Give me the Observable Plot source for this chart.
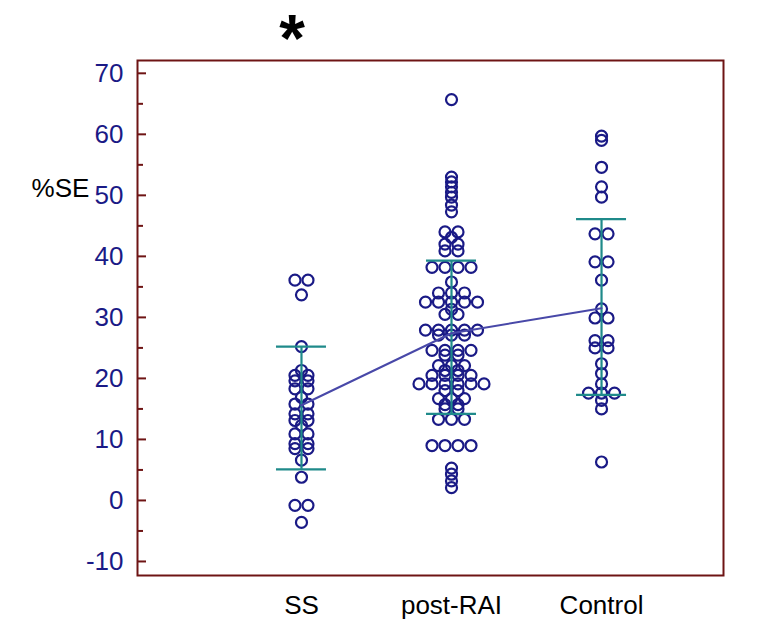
<!DOCTYPE html>
<html><head><meta charset="utf-8">
<script src="https://cdn.jsdelivr.net/npm/d3@7"></script>
<script src="https://cdn.jsdelivr.net/npm/@observablehq/plot@0.6"></script>
<style>
body{margin:0;background:#fff;font-family:Helvetica,"Liberation Sans",Arial,sans-serif;}
#wrap{position:relative;width:776px;height:626px;}
#star{position:absolute;left:262px;top:0;width:60px;text-align:center;font-size:66px;line-height:normal;font-weight:bold;color:#000;}
</style>
</head><body><div id="wrap"><div id="chart"></div><div id="star">*</div></div>
<script>
const categories = ["SS", "post-RAI", "Control"];
const ssValues = [36.1, 36.1, 33.7, 25.2, 21.3, 20.5, 20.5, 19.6, 19.6, 18.3, 18.3, 16.9, 15.8, 15.8,
  14.2, 14.2, 13.1, 13.1, 12.3, 10.9, 10.9, 9.3, 9.3, 8.5, 8.5, 6.6, 3.8, -0.8, -0.8, -3.6];
const postRaiValues = [65.7, 53.0, 52.2, 51.4, 50.5, 49.7, 48.4, 47.3,
  44.0, 44.0, 43.1, 42.0, 42.0, 40.9, 40.9, 38.2, 38.2, 38.2, 38.2, 35.8,
  34.0, 34.0, 34.0, 32.5, 32.5, 32.5, 32.5, 32.5, 31.3, 30.5, 30.5,
  27.9, 27.9, 27.9, 27.9, 27.9, 27.1, 27.1, 27.1, 24.6, 24.6, 24.6, 24.6, 23.8, 23.8,
  22.1, 22.1, 22.1, 21.3, 21.3, 20.5, 20.5, 20.5, 20.5,
  19.1, 19.1, 19.1, 19.1, 19.1, 19.1, 18.0, 18.0, 16.7, 16.7, 16.7, 15.7, 15.7, 15.0, 15.0,
  13.3, 13.3, 13.3, 9.0, 9.0, 9.0, 9.0, 5.3, 4.3, 3.2, 2.1];
const controlValues = [59.7, 59.0, 54.6, 51.4, 49.7, 43.7, 43.7, 39.1, 39.1, 36.1, 31.4, 29.9, 29.9,
  26.2, 26.2, 25.0, 25.0, 22.4, 20.8, 19.1, 17.6, 17.6, 17.6, 16.4, 15.0, 6.3];
const groupMeans = [15.6, 27.4, 31.5];
const groupLower = [5.1, 14.2, 17.3];
const groupUpper = [25.2, 39.3, 46.1];
const yTicks = [-10, 0, 10, 20, 30, 40, 50, 60, 70];
const yMinorTicks = [-5, 5, 15, 25, 35, 45, 55, 65];

const W = 776, H = 626, mL = 137, mR = 53, mT = 60, mB = 51;
const xDomain = [-0.093, 3.813];
const yDomain = [-12.3, 72.1];
const pxPerUnit = (W - mL - mR) / (xDomain[1] - xDomain[0]);
const dotSpacing = 13 / pxPerUnit;
const capHalf = 25 / pxPerUnit;

const groups = [ssValues, postRaiValues, controlValues];
const points = [];
groups.forEach((vals, gi) => {
  const byVal = d3.group(vals, v => v.toFixed(1));
  for (const [, arr] of byVal) {
    const k = arr.length;
    arr.forEach((v, i) => points.push({g: categories[gi], xi: gi + 1 + (i - (k - 1) / 2) * dotSpacing, v}));
  }
});
const summary = categories.map((c, i) => ({c, xi: i + 1, mean: groupMeans[i], lo: groupLower[i], hi: groupUpper[i]}));

const navy = "#1a1a86", teal = "#1f8a8a", frameCol = "#6e1414", lineCol = "#4848a8";
const font = "Helvetica, 'Liberation Sans', Arial, sans-serif";

const chart = Plot.plot({
  width: W, height: H,
  marginLeft: mL, marginRight: mR, marginTop: mT, marginBottom: mB,
  style: {fontFamily: font, background: "#fff"},
  x: {domain: xDomain},
  y: {domain: yDomain},
  marks: [
    Plot.axisY(yTicks, {tickSize: 0, tickPadding: 14, fontSize: 26, fill: navy, label: null, tickFormat: d => String(d)}),
    Plot.axisY(yTicks, {tickSize: -9, text: null, stroke: frameCol, strokeWidth: 2, label: null}),
    Plot.axisY(yMinorTicks, {tickSize: -6, text: null, stroke: frameCol, strokeWidth: 2, label: null}),
    Plot.axisX([1, 2, 3], {tickSize: 0, tickPadding: 20, fontSize: 26, fill: "#000", tickFormat: i => categories[i - 1], label: null}),
    Plot.dot(points, {x: "xi", y: "v", r: 5.5, stroke: navy, strokeWidth: 2.2, fill: "none"}),
    Plot.ruleX(summary, {x: "xi", y1: "lo", y2: "hi", stroke: teal, strokeWidth: 2.2}),
    Plot.ruleY(summary, {y: "lo", x1: d => d.xi - capHalf, x2: d => d.xi + capHalf, stroke: teal, strokeWidth: 2.2}),
    Plot.ruleY(summary, {y: "hi", x1: d => d.xi - capHalf, x2: d => d.xi + capHalf, stroke: teal, strokeWidth: 2.2}),
    Plot.line(summary, {x: "xi", y: "mean", stroke: lineCol, strokeWidth: 2}),
    Plot.text(["%SE"], {frameAnchor: "left", y: 51.1, dx: -77, textAnchor: "middle", fontSize: 26, fill: "#000"}),
    Plot.frame({stroke: frameCol, strokeWidth: 2})
  ]
});
document.getElementById("chart").append(chart);
</script></body></html>
